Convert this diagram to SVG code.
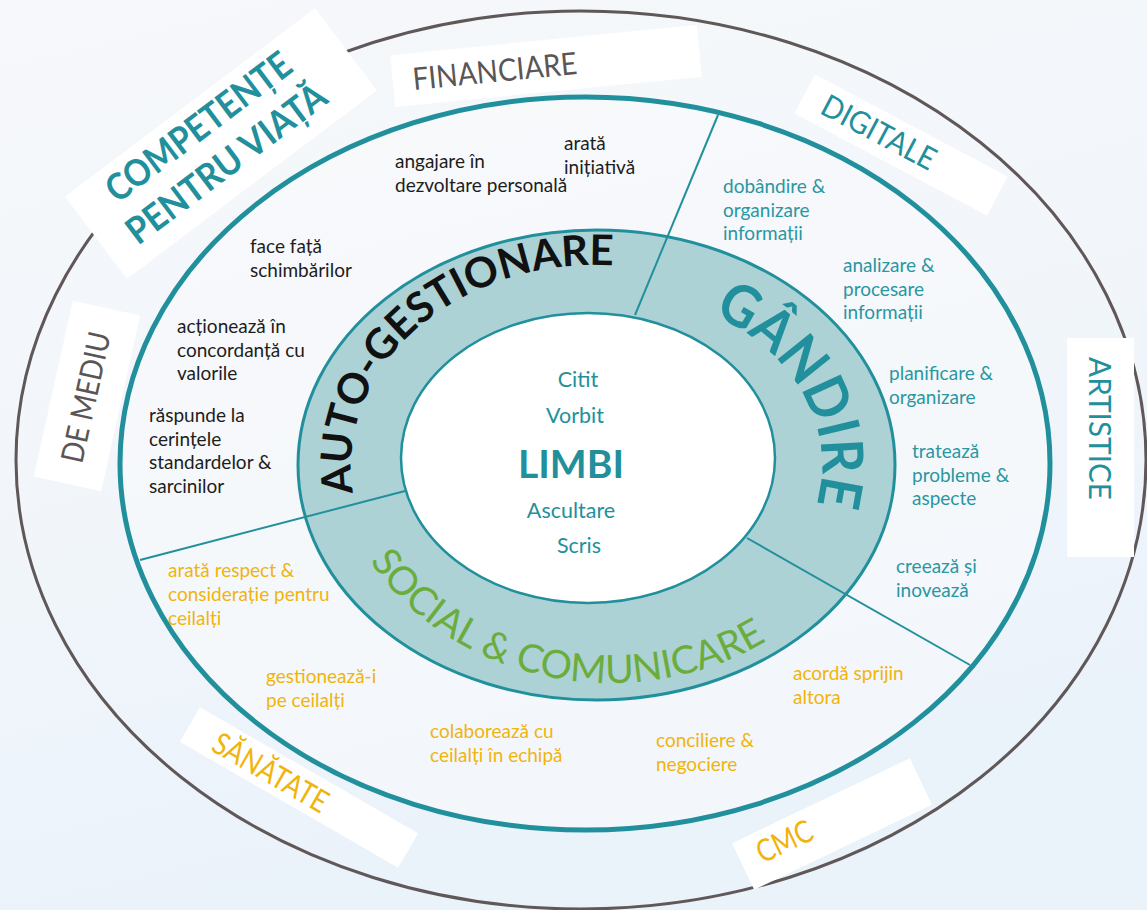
<svg xmlns="http://www.w3.org/2000/svg" width="1147" height="910" viewBox="0 0 1147 910">
<defs>
<linearGradient id="bg" x1="0" y1="0" x2="0.3" y2="1">
<stop offset="0" stop-color="#f6f8fb"/>
<stop offset="0.5" stop-color="#f2f6fa"/>
<stop offset="1" stop-color="#eaf2fa"/>
</linearGradient>
<path id="pAuto" d="M 353.4 492.8 A 245 200 0 0 1 617.4 265.8"/>
<path id="pGand" d="M 713 314.4 A 226 176 0 0 1 808.4 525.2"/>
<path id="pSoc" d="M 329.9 409.7 A 282 253 0 0 0 867.4 535.3"/>
<style>
text{font-family:Lato,"Open Sans","DejaVu Sans",sans-serif;}
.box{fill:#ffffff;}
.sm{font-size:19px;}
.blk{fill:#1d1d1b;}
.tl{fill:#2a96a2;}
.yl{fill:#f0b40c;}
.lbl{font-size:31px;}
.div{stroke:#21909c;stroke-width:2;fill:none;}
.ctr{fill:#21909c;font-size:21.5px;text-anchor:middle;}
</style>
</defs>
<rect x="0" y="0" width="1147" height="910" fill="url(#bg)"/>
<g id="rings">
<ellipse id="outer" cx="581" cy="460" rx="565" ry="449" fill="none" stroke="#605858" stroke-width="3"/>
<ellipse id="middle" cx="585" cy="463.5" rx="465" ry="366.5" fill="#f8fafc" fill-opacity="0.6" stroke="#21909c" stroke-width="5"/>
<ellipse id="ring" cx="596.5" cy="465" rx="298.5" ry="235" fill="#acd2d6" stroke="#21909c" stroke-width="3"/>
</g>
<g id="connectors">
<line class="div" x1="718" y1="115" x2="635" y2="315"/>
<line class="div" x1="140" y1="560" x2="405" y2="491"/>
<line class="div" x1="747" y1="538" x2="970" y2="665"/>
</g>
<g id="core">
<ellipse cx="588" cy="458" rx="187" ry="145" fill="#ffffff" stroke="#21909c" stroke-width="2.5"/>
<text class="ctr" x="578" y="387">Citit</text>
<text class="ctr" x="575" y="423">Vorbit</text>
<text x="571" y="478" fill="#21909c" font-size="39" font-weight="bold" text-anchor="middle">LIMBI</text>
<text class="ctr" x="571" y="518">Ascultare</text>
<text class="ctr" x="579" y="553">Scris</text>
</g>
<g id="auto-gestionare">
<text font-size="42" font-weight="bold" fill="#111111"><textPath href="#pAuto">AUTO-GESTIONARE</textPath></text>
</g>
<g id="gandire">
<text font-size="58" font-weight="bold" fill="#21909c"><textPath href="#pGand" textLength="236" lengthAdjust="spacingAndGlyphs">GÂNDIRE</textPath></text>
</g>
<g id="social">
<text font-size="39" fill="#6aad3d"><textPath href="#pSoc" startOffset="50.8%" text-anchor="middle">SOCIAL &amp; COMUNICARE</textPath></text>
</g>
<g id="competente" transform="translate(221,143.5) rotate(-37)">
<rect class="box" x="-156.5" y="-51.5" width="313" height="103"/>
<text x="-8" y="-14" font-size="37" font-weight="bold" fill="#21909c" text-anchor="middle" textLength="222" lengthAdjust="spacingAndGlyphs">COMPETENȚE</text>
<text x="-8" y="32" font-size="37" font-weight="bold" fill="#21909c" text-anchor="middle" textLength="240" lengthAdjust="spacingAndGlyphs">PENTRU VIAȚĂ</text>
</g>
<g id="financiare" transform="translate(546,66) rotate(-5.6)">
<rect class="box" x="-154" y="-26" width="308" height="52"/>
<text class="lbl" x="-134" y="11" fill="#5b5656" textLength="165" lengthAdjust="spacingAndGlyphs">FINANCIARE</text>
</g>
<g id="digitale" transform="translate(901,145) rotate(27.9)">
<rect class="box" x="-109" y="-22" width="218" height="44"/>
<text class="lbl" x="-88" y="10" fill="#21909c" textLength="125" lengthAdjust="spacingAndGlyphs">DIGITALE</text>
</g>
<g id="artistice">
<rect class="box" x="1067" y="338" width="67" height="219"/>
<text class="lbl" transform="translate(1089,357) rotate(90)" x="0" y="0" fill="#21909c" textLength="143" lengthAdjust="spacingAndGlyphs">ARTISTICE</text>
</g>
<g id="de-mediu" transform="translate(87,396) rotate(-77.5)">
<rect class="box" x="-90" y="-34.5" width="180" height="69"/>
<text class="lbl" x="-68" y="10" fill="#5b5656" textLength="133" lengthAdjust="spacingAndGlyphs">DE MEDIU</text>
</g>
<g id="sanatate" transform="translate(299,787.5) rotate(30)">
<rect class="box" x="-126" y="-20" width="252" height="40"/>
<text class="lbl" x="-96" y="12" fill="#f0b40c" textLength="128" lengthAdjust="spacingAndGlyphs">SĂNĂTATE</text>
</g>
<g id="cmc" transform="translate(832,824) rotate(-25.5)">
<rect class="box" x="-98.5" y="-25.75" width="197" height="51.5"/>
<text class="lbl" x="-80" y="6" fill="#f0b40c" textLength="59" lengthAdjust="spacingAndGlyphs">CMC</text>
</g>
<g id="auto-items">
<text id="n-angajare" class="sm blk" x="395" y="168">angajare în<tspan x="395" dy="24">dezvoltare personală</tspan></text>
<text id="n-initiativa" class="sm blk" x="564" y="150">arată<tspan x="564" dy="24">inițiativă</tspan></text>
<text id="n-face" class="sm blk" x="250" y="253">face față<tspan x="250" dy="24">schimbărilor</tspan></text>
<text id="n-actioneaza" class="sm blk" x="177" y="333">acționează în<tspan x="177" dy="23.5">concordanță cu</tspan><tspan x="177" dy="23.5">valorile</tspan></text>
<text id="n-raspunde" class="sm blk" x="149" y="422">răspunde la<tspan x="149" dy="23.7">cerințele</tspan><tspan x="149" dy="23.7">standardelor &amp;</tspan><tspan x="149" dy="23.7">sarcinilor</tspan></text>
</g>
<g id="gandire-items">
<text class="sm tl" x="723" y="193">dobândire &amp;<tspan x="723" dy="23.5">organizare</tspan><tspan x="723" dy="23.5">informații</tspan></text>
<text class="sm tl" x="843" y="272">analizare &amp;<tspan x="843" dy="23.5">procesare</tspan><tspan x="843" dy="23.5">informații</tspan></text>
<text class="sm tl" x="889" y="380">planificare &amp;<tspan x="889" dy="23.5">organizare</tspan></text>
<text class="sm tl" x="912" y="458">tratează<tspan x="912" dy="23.5">probleme &amp;</tspan><tspan x="912" dy="23.5">aspecte</tspan></text>
<text class="sm tl" x="896" y="573">creează și<tspan x="896" dy="24">inovează</tspan></text>
</g>
<g id="social-items">
<text class="sm yl" x="168" y="577">arată respect &amp;<tspan x="168" dy="24">considerație pentru</tspan><tspan x="168" dy="24">ceilalți</tspan></text>
<text class="sm yl" x="266" y="683">gestionează-i<tspan x="266" dy="24">pe ceilalți</tspan></text>
<text class="sm yl" x="430" y="738">colaborează cu<tspan x="430" dy="24">ceilalți în echipă</tspan></text>
<text class="sm yl" x="656" y="747">conciliere &amp;<tspan x="656" dy="23.5">negociere</tspan></text>
<text class="sm yl" x="793" y="680">acordă sprijin<tspan x="793" dy="23.5">altora</tspan></text>
</g>
</svg>
